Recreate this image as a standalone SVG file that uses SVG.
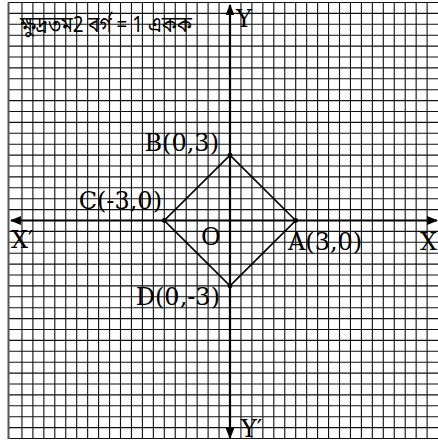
<svg xmlns="http://www.w3.org/2000/svg" width="438" height="443" viewBox="0 0 438 443">
<style>
.grid{stroke:#111;stroke-width:1.1;fill:none}
.axis{stroke:#000;stroke-width:2.2;fill:none}
.sq{stroke:#000;stroke-width:1.7;fill:none}
.lbl{font-family:"DejaVu Serif","Liberation Serif",serif;font-size:24px;fill:#000}
.bn{font-family:"Noto Sans Bengali","Noto Serif Bengali","Lohit Bengali","FreeSerif","Noto Sans",sans-serif;font-size:22px;fill:#000}
</style>
<defs>
<marker id="arr" viewBox="0 0 10 8" refX="9" refY="4" markerWidth="5" markerHeight="4" orient="auto-start-reverse" markerUnits="strokeWidth">
<path d="M0,0 L10,4 L0,8 z" fill="#000"/>
</marker>
</defs>
<rect width="438" height="443" fill="#fff"/>
<g id="grid">
<path class="grid" d="M8,2.5H438M8,13.4H438M8,24.3H438M8,35.2H438M8,46.1H438M8,57H438M8,67.9H438M8,78.8H438M8,89.7H438M8,100.6H438M8,111.5H438M8,122.4H438M8,133.3H438M8,144.2H438M8,155.1H438M8,166H438M8,176.9H438M8,187.8H438M8,198.7H438M8,209.6H438M8,231.4H438M8,242.3H438M8,253.2H438M8,264.1H438M8,275H438M8,285.9H438M8,296.8H438M8,307.7H438M8,318.6H438M8,329.5H438M8,340.4H438M8,351.3H438M8,362.2H438M8,373.1H438M8,384H438M8,394.9H438M8,405.8H438M8,416.7H438M8,427.6H438M8,438.5H438"/>
<path class="grid" d="M21.95,2.5V438.5M32.9,2.5V438.5M43.85,2.5V438.5M54.8,2.5V438.5M65.75,2.5V438.5M76.7,2.5V438.5M87.65,2.5V438.5M98.6,2.5V438.5M109.55,2.5V438.5M120.5,2.5V438.5M131.45,2.5V438.5M142.4,2.5V438.5M153.35,2.5V438.5M164.3,2.5V438.5M175.25,2.5V438.5M186.2,2.5V438.5M197.15,2.5V438.5M208.1,2.5V438.5M219.05,2.5V438.5M240.95,2.5V438.5M251.9,2.5V438.5M262.85,2.5V438.5M273.8,2.5V438.5M284.75,2.5V438.5M295.7,2.5V438.5M306.65,2.5V438.5M317.6,2.5V438.5M328.55,2.5V438.5M339.5,2.5V438.5M350.45,2.5V438.5M361.4,2.5V438.5M372.35,2.5V438.5M383.3,2.5V438.5M394.25,2.5V438.5M405.2,2.5V438.5M416.15,2.5V438.5M427.1,2.5V438.5"/>
<path d="M8.5,2.5V439" stroke="#555" stroke-width="2" fill="none"/>
</g>
<g id="connectors">
<path class="axis" d="M11,220.5H437" marker-start="url(#arr)" marker-end="url(#arr)"/>
<path class="axis" d="M230,5V438" marker-start="url(#arr)" marker-end="url(#arr)"/>
<polygon class="sq" points="295.7,220.5 230,155.1 164.3,220.5 230,285.9"/>
</g>
<g id="A"><circle cx="295.7" cy="220.5" r="2.4"/><text class="lbl" x="288" y="250">A(3,0)</text></g>
<g id="B"><circle cx="230" cy="155.1" r="2.4"/><text class="lbl" x="219" y="151" text-anchor="end">B(0,3)</text></g>
<g id="C"><circle cx="164.3" cy="220.5" r="2.4"/><text class="lbl" x="162" y="209" text-anchor="end">C(-3,0)</text></g>
<g id="D"><circle cx="230" cy="285.9" r="2.4"/><text class="lbl" x="220" y="305" text-anchor="end">D(0,-3)</text></g>
<g id="O"><text class="lbl" x="201" y="245">O</text></g>
<g id="axis-labels">
<text class="lbl" x="11" y="248">X′</text>
<text class="lbl" x="420" y="250">X</text>
<text class="lbl" x="236" y="27">Y</text>
<text class="lbl" x="241" y="437">Y′</text>
</g>
<g id="scale"><text class="bn" x="20" y="32" textLength="172" lengthAdjust="spacingAndGlyphs">ক্ষুদ্রতম2 বর্গ = 1 একক</text></g>
</svg>
